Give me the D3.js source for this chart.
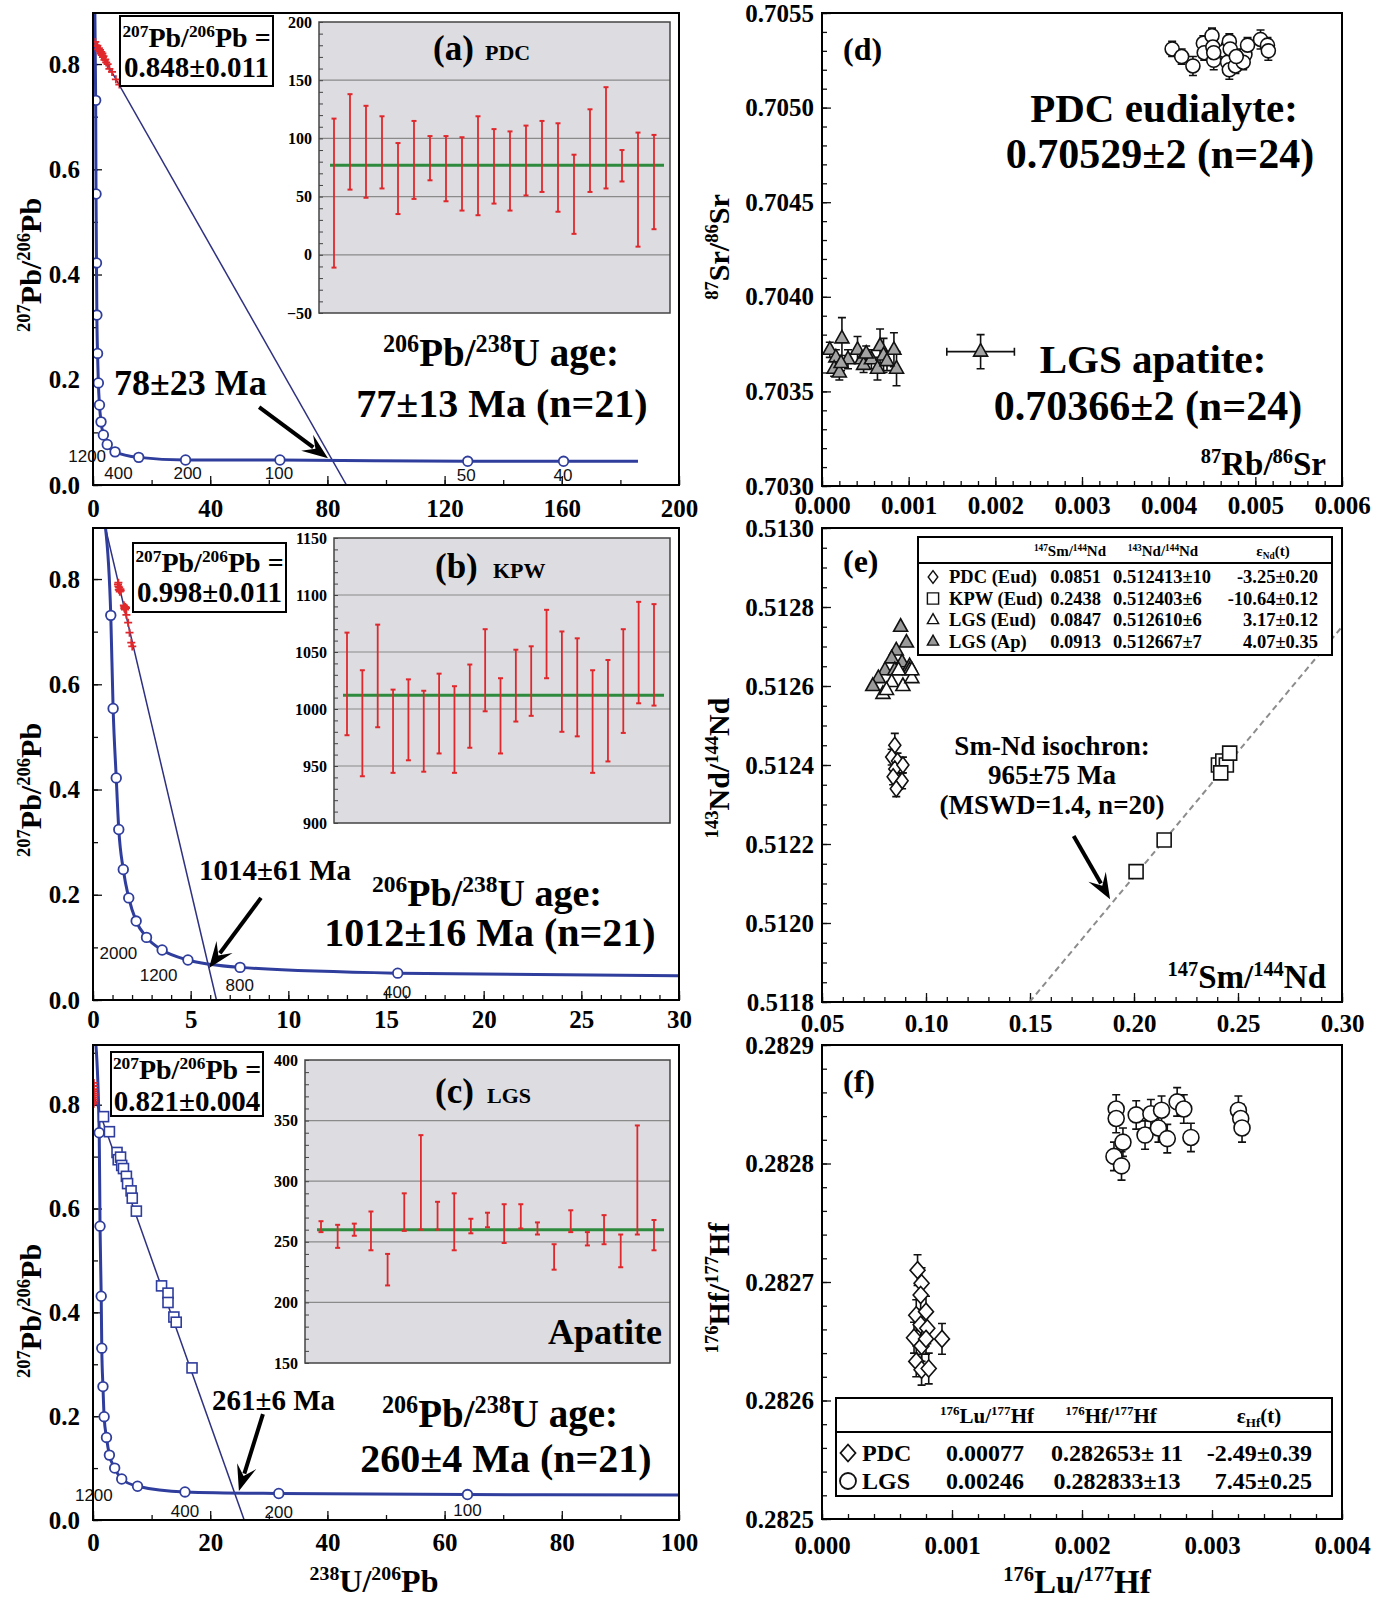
<!DOCTYPE html>
<html>
<head>
<meta charset="utf-8">
<script src="https://cdn.jsdelivr.net/npm/d3@7"></script>
<style>
  body { margin: 0; background: #fff; }
  svg { display: block; }
</style>
</head>
<body>
<svg id="fig" width="1387" height="1603"></svg>
<script>
var SERIF = "'Liberation Serif','Times New Roman',serif",
    SANS = "'Liberation Sans',Arial,sans-serif";
var NAVY = "#2e3080", BLUE = "#2f3d9c", RED = "#e0282c", GREEN = "#2e8b3e";

// ---------- (a) PDC : Tera-Wasserburg ----------
var aConcX = [0.91, 1.03, 1.19, 1.32, 1.55, 1.83, 2.21, 2.74, 3.54, 4.86, 7.53, 15.6, 31.6, 63.8, 127.9, 160.6];
var aConcY = [0.731, 0.553, 0.422, 0.323, 0.250, 0.194, 0.152, 0.120, 0.095, 0.077, 0.063, 0.0525, 0.0475, 0.0475, 0.045, 0.045];
var aConcStart = [0.64, 0.897], aConcEnd = [186, 0.045];
var aAgeText = ["1200", "400", "200", "100", "50", "40"];
var aAgeX = [-2, 8.7, 32.3, 63.5, 127.4, 160.4];
var aAgeY = [0.055, 0.022, 0.022, 0.022, 0.019, 0.019];
var aRedX = [0.8, 1.2, 1.5, 1.8, 2.0, 2.2, 2.4, 2.6, 2.8, 3.0, 3.2, 3.4, 3.6, 3.9, 4.2, 4.5, 5.0, 5.6, 6.5, 7.8, 9.0];
var aRedY = [0.842, 0.834, 0.835, 0.828, 0.830, 0.824, 0.827, 0.820, 0.823, 0.817, 0.820, 0.813, 0.815, 0.808, 0.809, 0.803, 0.800, 0.791, 0.785, 0.771, 0.761];
var aDisc = [0.848, 86.5];           // y-intercept, x-intercept
var aXTicks = [0, 40, 80, 120, 160, 200];
var insetAHi = [117, 138, 128, 119, 96, 115, 102, 102, 101, 119, 108, 106, 111, 115, 113, 86, 125, 144, 90, 105, 103];
var insetALo = [-11, 56, 49, 57, 35, 48, 64, 46, 38, 34, 44, 38, 51, 54, 37, 18, 54, 57, 63, 7, 22];
var insetATicks = [-50, 0, 50, 100, 150, 200];
var insetAMean = 77;

// ---------- (b) KPW ----------
var bConcX = [0.91, 1.03, 1.19, 1.32, 1.55, 1.83, 2.21, 2.74, 3.54, 4.86, 7.53, 15.6];
var bConcY = [0.731, 0.554, 0.422, 0.324, 0.248, 0.194, 0.150, 0.119, 0.095, 0.076, 0.062, 0.051];
var bConcStart = [0.64, 0.897], bConcEnd = [30, 0.046];
var bAgeText = ["2000", "1200", "800", "400"];
var bAgeX = [1.3, 3.36, 7.51, 15.57];
var bAgeY = [0.089, 0.048, 0.029, 0.016];
var bRedX = [1.30, 1.30, 1.32, 1.34, 1.37, 1.40, 1.42, 1.58, 1.60, 1.62, 1.64, 1.66, 1.69, 1.71, 1.80, 1.87, 1.96, 2.01, 1.35, 1.61, 1.28];
var bRedY = [0.793, 0.786, 0.780, 0.784, 0.776, 0.781, 0.778, 0.750, 0.748, 0.745, 0.742, 0.747, 0.745, 0.732, 0.717, 0.698, 0.679, 0.672, 0.779, 0.744, 0.790];
var bDisc = [0.998, 6.32];
var bXTicks = [0, 5, 10, 15, 20, 25, 30];
var insetBHi = [1067, 1034, 1074, 1017, 1026, 1016, 1031, 1020, 1039, 1070, 1027, 1052, 1055, 1087, 1068, 1062, 1034, 1043, 1070, 1094, 1092];
var insetBLo = [977, 941, 984, 944, 955, 945, 961, 944, 966, 998, 961, 989, 994, 1027, 980, 976, 944, 954, 979, 1005, 1003];
var insetBTicks = [900, 950, 1000, 1050, 1100, 1150];
var insetBMean = 1012;

// ---------- (c) LGS ----------
var cConcX = [1.06, 1.2, 1.4, 1.5, 1.7, 1.9, 2.3, 2.8, 3.7, 4.9, 7.6, 15.7, 31.7, 63.9];
var cConcY = [0.746, 0.566, 0.431, 0.331, 0.257, 0.199, 0.159, 0.125, 0.100, 0.079, 0.065, 0.054, 0.051, 0.049];
var cConcStart = [0.5, 0.915], cConcEnd = [100, 0.048];
var cAgeText = ["1200", "400", "200", "100"];
var cAgeX = [0.15, 15.7, 31.7, 63.9];
var cAgeY = [0.049, 0.018, 0.016, 0.020];
var cRedX = [0.15, 0.18, 0.20, 0.12, 0.22, 0.25, 0.17, 0.20, 0.23, 0.14];
var cRedY = [0.842, 0.836, 0.830, 0.826, 0.822, 0.818, 0.814, 0.810, 0.806, 0.802];
var cSqX = [1.8, 2.8, 4.1, 4.3, 4.7, 4.9, 5.2, 5.7, 5.9, 6.5, 6.7, 7.4, 11.7, 12.8, 12.8, 13.8, 14.2, 16.9];
var cSqY = [0.777, 0.748, 0.708, 0.694, 0.699, 0.683, 0.677, 0.662, 0.648, 0.634, 0.620, 0.595, 0.451, 0.437, 0.419, 0.391, 0.381, 0.293];
var cDisc = [0.821, 25.8];
var cXTicks = [0, 20, 40, 60, 80, 100];
var insetCHi = [267, 264, 265, 275, 240, 290, 338, 283, 290, 269, 274, 281, 281, 266, 248, 276, 258, 272, 256, 346, 268];
var insetCLo = [258, 245, 255, 243, 214, 259, 260, 260, 243, 257, 262, 249, 261, 256, 227, 258, 247, 248, 229, 256, 243];
var insetCTicks = [150, 200, 250, 300, 350, 400];
var insetCMean = 260;

var twYTicks = [0, 0.2, 0.4, 0.6, 0.8];

// ---------- (d) Sr isotopes ----------
var dCirX = [0.00404, 0.00415, 0.00428, 0.00440, 0.00441, 0.00450, 0.00451, 0.00452, 0.00465, 0.00468, 0.00470, 0.00471, 0.00470, 0.00477, 0.00488, 0.00486, 0.00491, 0.00506, 0.00514, 0.00515, 0.00452, 0.00478];
var dCirY = [0.70531, 0.70527, 0.70522, 0.70534, 0.70529, 0.70538, 0.70532, 0.70525, 0.70530, 0.70524, 0.70535, 0.70531, 0.70520, 0.70522, 0.70528, 0.70524, 0.70533, 0.70536, 0.70533, 0.70530, 0.70529, 0.70527];
var dCirErr = [0.00004, 0.00004, 0.00005, 0.00004, 0.00004, 0.00004, 0.00004, 0.00005, 0.00004, 0.00005, 0.00004, 0.00004, 0.00005, 0.00004, 0.00004, 0.00004, 0.00004, 0.00005, 0.00004, 0.00005, 0.00004, 0.00004];
var dCirXErr = [0, 0, 0, 0, 0, 0, 0, 0, 0, 0, 0, 0, 0, 0, 0, 0, 0, 0, 0.00005, 0, 0, 0];
var dTriX = [0.00009, 0.00016, 0.00023, 0.00014, 0.00020, 0.00030, 0.00041, 0.00046, 0.00048, 0.00057, 0.00064, 0.00067, 0.00071, 0.00083, 0.00086, 0.00022, 0.00051, 0.00075, 0.00183];
var dTriY = [0.70372, 0.70368, 0.70378, 0.70362, 0.70360, 0.70367, 0.70372, 0.70367, 0.70364, 0.70367, 0.70362, 0.70374, 0.70369, 0.70372, 0.70362, 0.70365, 0.70370, 0.70366, 0.70371];
var dTriErr = [0.00004, 0.00004, 0.00011, 0.00004, 0.00004, 0.00005, 0.00007, 0.00004, 0.00004, 0.00005, 0.00006, 0.00009, 0.00009, 0.00009, 0.00009, 0.00004, 0.00004, 0.00005, 0.00009];
var dTriXErr = [0, 0, 0, 0, 0, 0, 0, 0, 0, 0, 0, 0, 0, 0, 0, 0, 0, 0, 0.00039];
var dXTicks = [0, 0.001, 0.002, 0.003, 0.004, 0.005, 0.006];
var dYTicks = [0.7030, 0.7035, 0.7040, 0.7045, 0.7050, 0.7055];

// ---------- (e) Nd isotopes ----------
var eDiaX = [0.0850, 0.0835, 0.0863, 0.0850, 0.0889, 0.0868, 0.0842, 0.0885, 0.0857];
var eDiaY = [0.51245, 0.51242, 0.51241, 0.51239, 0.51240, 0.51236, 0.51237, 0.51236, 0.51234];
var eDiaErr = [0.00003, 0.00002, 0.00002, 0.00002, 0.00002, 0.00002, 0.00002, 0.00002, 0.00002];
var eApX = [0.0878, 0.0906, 0.0857, 0.0835, 0.0885, 0.0921, 0.0803, 0.0850, 0.0771, 0.0744, 0.0921];
var eApY = [0.51275, 0.51271, 0.51269, 0.51267, 0.51266, 0.51265, 0.51264, 0.51264, 0.51262, 0.51260, 0.51264];
var eEudX = [0.0793, 0.0835, 0.0889, 0.0932, 0.0868, 0.0932, 0.0810];
var eEudY = [0.51258, 0.51261, 0.51260, 0.51262, 0.51264, 0.51264, 0.51259];
var eSqX = [0.201, 0.2145, 0.2406, 0.2427, 0.2444, 0.2417, 0.2460];
var eSqY = [0.51213, 0.51221, 0.51240, 0.51241, 0.51240, 0.51238, 0.51243];
var eIsoX = [0.1498, 0.30], eIsoY = [0.5118, 0.51275];
var eXTicks = [0.05, 0.10, 0.15, 0.20, 0.25, 0.30];
var eYTicks = [0.5118, 0.5120, 0.5122, 0.5124, 0.5126, 0.5128, 0.5130];
var eLegName = ["PDC (Eud)", "KPW (Eud)", "LGS (Eud)", "LGS (Ap)"];
var eLegSm = ["0.0851", "0.2438", "0.0847", "0.0913"];
var eLegNd = ["0.512413\u00b110", "0.512403\u00b16", "0.512610\u00b16", "0.512667\u00b17"];
var eLegEps = ["-3.25\u00b10.20", "-10.64\u00b10.12", "3.17\u00b10.12", "4.07\u00b10.35"];

// ---------- (f) Hf isotopes ----------
var fCirX = [0.002263, 0.002263, 0.002246, 0.002304, 0.002315, 0.002417, 0.002485, 0.002530, 0.002588, 0.002612, 0.002656, 0.002732, 0.002783, 0.002838, 0.003203, 0.003221, 0.003231];
var fCirY = [0.282846, 0.282838, 0.282806, 0.282798, 0.282818, 0.282841, 0.282824, 0.282842, 0.282830, 0.282845, 0.282821, 0.282852, 0.282846, 0.282822, 0.282845, 0.282838, 0.282830];
var fDiaX = [0.000735, 0.000766, 0.000759, 0.000725, 0.000800, 0.000759, 0.000708, 0.000810, 0.000766, 0.000923, 0.000725, 0.000766, 0.000821, 0.000800];
var fDiaY = [0.282710, 0.282699, 0.282689, 0.282672, 0.282675, 0.282664, 0.282653, 0.282661, 0.282646, 0.282652, 0.282633, 0.282626, 0.282627, 0.282652];
var fXTicks = [0, 0.001, 0.002, 0.003, 0.004];
var fYTicks = [0.2825, 0.2826, 0.2827, 0.2828, 0.2829];
var fLegName = ["PDC", "LGS"];
var fLegLu = ["0.00077", "0.00246"];
var fLegHf = ["0.282653\u00b1 11", "0.282833\u00b113"];
var fLegEps = ["-2.49\u00b10.39", "7.45\u00b10.25"];

var svg = d3.select("#fig");

// text with ^superscript / _subscript parts
function rich(g, x, y, parts, size, anchor) {
  var t = g.append("text").attr("x", x).attr("y", y)
    .attr("font-family", SERIF).attr("font-weight", "bold")
    .attr("font-size", size).attr("text-anchor", anchor || "start");
  var cur = 0;
  parts.forEach(function(p) {
    var sup = p[0] === "^", sub = p[0] === "_";
    var off = sup ? -0.36 * size : sub ? 0.2 * size : 0;
    t.append("tspan").attr("dy", off - cur)
      .attr("font-size", (sup || sub) ? size * 0.62 : size)
      .text((sup || sub) ? p.slice(1) : p);
    cur = off;
  });
  return t;
}
function yTitle(x, y, parts, size) {
  rich(svg, 0, 0, parts, size, "middle").attr("transform", "translate(" + x + "," + y + ") rotate(-90)");
}
function steps(a, b, s) {
  return d3.range(0, Math.round((b - a) / s) + 1).map(function(i) { return +(a + i * s).toFixed(7); });
}

function axes(g, x, y, o) {
  var bottom = y.range()[0], left = x.range()[0];
  var gx = g.append("g").attr("transform", "translate(0," + bottom + ")");
  gx.append("g").call(d3.axisBottom(x).tickValues(o.xMinor).tickSize(-5).tickFormat(""));
  gx.append("g").call(d3.axisBottom(x).tickValues(o.xMajor).tickSize(-9).tickPadding(o.xPad).tickFormat(o.xFmt));
  var gy = g.append("g").attr("transform", "translate(" + left + ",0)");
  gy.append("g").call(d3.axisLeft(y).tickValues(o.yMinor).tickSize(-5).tickFormat(""));
  gy.append("g").call(d3.axisLeft(y).tickValues(o.yMajor).tickSize(-9).tickPadding(o.yPad).tickFormat(o.yFmt));
  g.selectAll(".domain").remove();
  g.selectAll(".tick line").attr("stroke", "#111").attr("stroke-width", 1.3);
  g.selectAll(".tick text").attr("font-family", SERIF).attr("font-weight", "bold")
    .attr("font-size", 25).attr("fill", "#000");
}

function frame(x, y) {
  svg.append("rect").attr("x", x.range()[0]).attr("y", y.range()[1])
    .attr("width", x.range()[1] - x.range()[0]).attr("height", y.range()[0] - y.range()[1])
    .attr("fill", "none").attr("stroke", "#000").attr("stroke-width", 2);
}

function clipped(id, x, y) {
  svg.append("clipPath").attr("id", id).append("rect")
    .attr("x", x.range()[0]).attr("y", y.range()[1])
    .attr("width", x.range()[1] - x.range()[0]).attr("height", y.range()[0] - y.range()[1]);
  return svg.append("g").attr("clip-path", "url(#" + id + ")");
}

function arrow(g, x1, y1, x2, y2) {
  var a = Math.atan2(y2 - y1, x2 - x1), L = 26, W = 10;
  var c = Math.cos(a), s = Math.sin(a);
  g.append("line").attr("x1", x1).attr("y1", y1).attr("x2", x2 - L * 0.7 * c).attr("y2", y2 - L * 0.7 * s)
    .attr("stroke", "#000").attr("stroke-width", 4);
  var bx = x2 - L * c, by = y2 - L * s;
  g.append("path").attr("d", "M" + x2 + "," + y2 +
      "L" + (bx + W * s) + "," + (by - W * c) +
      "L" + (x2 - L * 0.6 * c) + "," + (y2 - L * 0.6 * s) +
      "L" + (bx - W * s) + "," + (by + W * c) + "Z")
    .attr("fill", "#000");
}

function inset(o) {
  var y = d3.scaleLinear().domain([o.ticks[0], o.ticks[o.ticks.length - 1]]).range([o.y1, o.y0]);
  var x = d3.scaleLinear().domain([0, o.hi.length - 1]).range([o.b0, o.b1]);
  var g = svg.append("g");
  g.append("rect").attr("x", o.x0).attr("y", o.y0).attr("width", o.x1 - o.x0).attr("height", o.y1 - o.y0)
    .attr("fill", "#dcdce1");
  g.selectAll(".grid").data(o.ticks.slice(1, -1)).enter().append("line")
    .attr("x1", o.x0).attr("x2", o.x1).attr("y1", y).attr("y2", y)
    .attr("stroke", "#8a8a8a").attr("stroke-width", 1.2);
  var ga = g.append("g").attr("transform", "translate(" + o.x0 + ",0)");
  ga.append("g").call(d3.axisLeft(y).tickValues(steps(o.ticks[0], o.ticks[o.ticks.length - 1], 10)).tickSize(-4).tickFormat(""));
  ga.append("g").call(d3.axisLeft(y).tickValues(o.ticks).tickSize(0).tickPadding(7).tickFormat(d3.format("d")));
  ga.selectAll(".domain").remove();
  ga.selectAll(".tick line").attr("stroke", "#444");
  ga.selectAll(".tick text").attr("font-family", SERIF).attr("font-weight", "bold")
    .attr("font-size", 16).attr("fill", "#000");
  g.append("line").attr("x1", x(0) - 4).attr("x2", x(o.hi.length - 1) + 10)
    .attr("y1", y(o.mean)).attr("y2", y(o.mean)).attr("stroke", GREEN).attr("stroke-width", 3);
  var bars = g.selectAll(".bar").data(o.hi).enter().append("g");
  bars.append("line").attr("x1", function(d, i) { return x(i); }).attr("x2", function(d, i) { return x(i); })
    .attr("y1", function(d) { return y(d); }).attr("y2", function(d, i) { return y(o.lo[i]); })
    .attr("stroke", RED).attr("stroke-width", 1.8);
  [o.hi, o.lo].forEach(function(arr) {
    g.selectAll(null).data(arr).enter().append("line")
      .attr("x1", function(d, i) { return x(i) - 2.5; }).attr("x2", function(d, i) { return x(i) + 2.5; })
      .attr("y1", y).attr("y2", y).attr("stroke", RED).attr("stroke-width", 2);
  });
  g.append("rect").attr("x", o.x0).attr("y", o.y0).attr("width", o.x1 - o.x0).attr("height", o.y1 - o.y0)
    .attr("fill", "none").attr("stroke", "#444").attr("stroke-width", 1.5);
  rich(g, o.tx, o.ty, [o.label], 35, "start");
  rich(g, o.tx + o.gap, o.ty, [o.site], 22, "start");
}

function twPanel(o) {
  var x = d3.scaleLinear().domain([0, o.xTicks[o.xTicks.length - 1]]).range([93, 679]);
  var y = d3.scaleLinear().domain([0, o.yMax]).range([o.bottom, o.top]);
  axes(svg.append("g"), x, y, {
    xMinor: steps(0, o.xTicks[o.xTicks.length - 1], o.xStep), xMajor: o.xTicks, xFmt: d3.format("d"), xPad: o.xPad,
    yMinor: steps(0, 0.9, 0.1).filter(function(v) { return v <= o.yMax; }), yMajor: twYTicks, yFmt: d3.format(".1f"), yPad: 13
  });
  var p = clipped("clip" + o.id, x, y);
  p.append("line").attr("x1", x(0)).attr("y1", y(o.disc[0])).attr("x2", x(o.disc[1])).attr("y2", y(0))
    .attr("stroke", NAVY).attr("stroke-width", 1.5);
  var pts = [o.start].concat(o.cx.map(function(v, i) { return [v, o.cy[i]]; })).concat([o.end]);
  p.append("path").datum(pts)
    .attr("d", d3.line().x(function(d) { return x(d[0]); }).y(function(d) { return y(d[1]); }).curve(d3.curveMonotoneX))
    .attr("fill", "none").attr("stroke", BLUE).attr("stroke-width", 3);
  p.selectAll(".cc").data(o.cx).enter().append("circle")
    .attr("cx", function(d) { return x(d); }).attr("cy", function(d, i) { return y(o.cy[i]); })
    .attr("r", 4.8).attr("fill", "#fff").attr("stroke", BLUE).attr("stroke-width", 1.8);
  if (o.sqx) {
    p.selectAll(".sq").data(o.sqx).enter().append("rect")
      .attr("x", function(d) { return x(d) - 5; }).attr("y", function(d, i) { return y(o.sqy[i]) - 5; })
      .attr("width", 10).attr("height", 10).attr("fill", "#fff").attr("stroke", BLUE).attr("stroke-width", 1.6);
  }
  p.selectAll(".rd").data(o.rx).enter().append("path")
    .attr("transform", function(d, i) { return "translate(" + x(d) + "," + y(o.ry[i]) + ")"; })
    .attr("d", "M-4,0H4M0,-4V4").attr("stroke", RED).attr("stroke-width", 1.8);
  svg.selectAll(null).data(o.ageText).enter().append("text")
    .attr("x", function(d, i) { return x(o.ageX[i]); }).attr("y", function(d, i) { return y(o.ageY[i]) + 6; })
    .attr("text-anchor", "middle").attr("font-family", SANS).attr("font-size", 17).attr("fill", "#111")
    .text(function(d) { return d; });
  frame(x, y);
  arrow(svg, x(o.arrow[0]), y(o.arrow[1]), x(o.arrow[2]), y(o.arrow[3]));
  return { x: x, y: y };
}

function ratioBox(x0, y0, x1, y1, value, b1, b2) {
  svg.append("rect").attr("x", x0).attr("y", y0).attr("width", x1 - x0).attr("height", y1 - y0)
    .attr("fill", "#fff").attr("stroke", "#000").attr("stroke-width", 2);
  rich(svg, (x0 + x1) / 2, b1, ["^207", "Pb/", "^206", "Pb ="], 28, "middle");
  rich(svg, (x0 + x1) / 2, b2, [value], 29, "middle");
}

// ===== panel (a) =====
twPanel({ id: "a", xTicks: aXTicks, xStep: 20, xPad: 14, yMax: 0.897, top: 13, bottom: 485,
  cx: aConcX, cy: aConcY, start: aConcStart, end: aConcEnd, disc: aDisc, rx: aRedX, ry: aRedY,
  ageText: aAgeText, ageX: aAgeX, ageY: aAgeY, arrow: [56.7, 0.148, 80.2, 0.051] });
inset({ x0: 319, x1: 670, y0: 22, y1: 313, b0: 334, b1: 654, ticks: insetATicks, hi: insetAHi, lo: insetALo,
  mean: insetAMean, label: "(a)", site: "PDC", tx: 433, ty: 60, gap: 52 });
ratioBox(120, 16, 273, 86, "0.848\u00b10.011", 47, 77);
rich(svg, 114, 395, ["78\u00b123 Ma"], 36, "start");
rich(svg, 501, 366, ["^206", "Pb/", "^238", "U age:"], 39, "middle");
rich(svg, 502, 417, ["77\u00b113 Ma (n=21)"], 40, "middle");
yTitle(41, 265, ["^207", "Pb/", "^206", "Pb"], 30);

// ===== panel (b) =====
twPanel({ id: "b", xTicks: bXTicks, xStep: 1, xPad: 10, yMax: 0.897, top: 528, bottom: 1000,
  cx: bConcX, cy: bConcY, start: bConcStart, end: bConcEnd, disc: bDisc, rx: bRedX, ry: bRedY,
  ageText: bAgeText, ageX: bAgeX, ageY: bAgeY, arrow: [8.6, 0.194, 5.94, 0.061] });
inset({ x0: 334, x1: 670, y0: 538, y1: 823, b0: 347, b1: 654, ticks: insetBTicks, hi: insetBHi, lo: insetBLo,
  mean: insetBMean, label: "(b)", site: "KPW", tx: 435, ty: 578, gap: 58 });
ratioBox(133, 543, 286, 612, "0.998\u00b10.011", 572, 602);
rich(svg, 199, 880, ["1014\u00b161 Ma"], 29, "start");
rich(svg, 487, 906, ["^206", "Pb/", "^238", "U age:"], 38, "middle");
rich(svg, 490, 946, ["1012\u00b116 Ma (n=21)"], 40, "middle");
yTitle(41, 790, ["^207", "Pb/", "^206", "Pb"], 30);

// ===== panel (c) =====
twPanel({ id: "c", xTicks: cXTicks, xStep: 10, xPad: 13, yMax: 0.915, top: 1045, bottom: 1520,
  cx: cConcX, cy: cConcY, start: cConcStart, end: cConcEnd, disc: cDisc, rx: cRedX, ry: cRedY,
  sqx: cSqX, sqy: cSqY,
  ageText: cAgeText, ageX: cAgeX, ageY: cAgeY, arrow: [29.0, 0.204, 24.9, 0.056] });
inset({ x0: 305, x1: 670, y0: 1060, y1: 1363, b0: 321, b1: 654, ticks: insetCTicks, hi: insetCHi, lo: insetCLo,
  mean: insetCMean, label: "(c)", site: "LGS", tx: 435, ty: 1103, gap: 52 });
rich(svg, 662, 1344, ["Apatite"], 36, "end");
ratioBox(111, 1052, 263, 1116, "0.821\u00b10.004", 1079, 1111);
rich(svg, 212, 1410, ["261\u00b16 Ma"], 29, "start");
rich(svg, 500, 1427, ["^206", "Pb/", "^238", "U age:"], 39, "middle");
rich(svg, 506, 1472, ["260\u00b14 Ma (n=21)"], 40, "middle");
yTitle(41, 1311, ["^207", "Pb/", "^206", "Pb"], 30);
rich(svg, 374, 1592, ["^238", "U/", "^206", "Pb"], 32, "middle");

// ===== generic helpers for right column =====
var SHAPES = {
  tri: "M0,-8L7,4.5L-7,4.5Z",
  dia: "M0,-8L6,0L0,8L-6,0Z",
  diaL: "M0,-8.5L7.5,0L0,8.5L-7.5,0Z",
  sq: "M-7,-7H7V7H-7Z"
};
function errBars(g, x, y, xs, ys, ye, xe, cap) {
  xs.forEach(function(v, i) {
    var cx = x(v), cy = y(ys[i]);
    if (ye && ye[i]) {
      var t = y(ys[i] + ye[i]), b = y(ys[i] - ye[i]);
      g.append("path").attr("d", "M" + cx + "," + t + "V" + b + "M" + (cx - cap) + "," + t + "h" + 2 * cap + "M" + (cx - cap) + "," + b + "h" + 2 * cap)
        .attr("stroke", "#111").attr("stroke-width", 1.6).attr("fill", "none");
    }
    if (xe && xe[i]) {
      var l = x(v - xe[i]), r = x(v + xe[i]);
      g.append("path").attr("d", "M" + l + "," + cy + "H" + r + "M" + l + "," + (cy - cap) + "v" + 2 * cap + "M" + r + "," + (cy - cap) + "v" + 2 * cap)
        .attr("stroke", "#111").attr("stroke-width", 1.6).attr("fill", "none");
    }
  });
}
function marks(g, x, y, xs, ys, shape, fill) {
  g.selectAll(null).data(xs).enter().append("path")
    .attr("transform", function(d, i) { return "translate(" + x(d) + "," + y(ys[i]) + ")"; })
    .attr("d", shape).attr("fill", fill).attr("stroke", "#111").attr("stroke-width", 1.6);
}
function circles(g, x, y, xs, ys, r) {
  g.selectAll(null).data(xs).enter().append("circle")
    .attr("cx", function(d) { return x(d); }).attr("cy", function(d, i) { return y(ys[i]); })
    .attr("r", r).attr("fill", "#fff").attr("stroke", "#111").attr("stroke-width", 1.6);
}
function rightPanel(xTicks, yTicks, top, bottom, xMinStep, yMinStep, xFmt, xPad) {
  var x = d3.scaleLinear().domain([xTicks[0], xTicks[xTicks.length - 1]]).range([822, 1342]);
  var y = d3.scaleLinear().domain([yTicks[0], yTicks[yTicks.length - 1]]).range([bottom, top]);
  axes(svg.append("g"), x, y, {
    xMinor: steps(xTicks[0], xTicks[xTicks.length - 1], xMinStep), xMajor: xTicks, xFmt: d3.format(xFmt), xPad: xPad,
    yMinor: steps(yTicks[0], yTicks[yTicks.length - 1], yMinStep), yMajor: yTicks, yFmt: d3.format(".4f"), yPad: 8
  });
  return { x: x, y: y };
}

// ===== panel (d) =====
var D = rightPanel(dXTicks, dYTicks, 13, 486, 0.0002, 0.0001, ".3f", 10);
var dg = svg.append("g");
errBars(dg, D.x, D.y, dTriX, dTriY, dTriErr, dTriXErr, 4);
marks(dg, D.x, D.y, dTriX, dTriY, SHAPES.tri, "#a3a3a3");
errBars(dg, D.x, D.y, dCirX, dCirY, dCirErr, dCirXErr, 4);
circles(dg, D.x, D.y, dCirX, dCirY, 7);
frame(D.x, D.y);
rich(svg, 843, 60, ["(d)"], 32, "start");
rich(svg, 1164, 122, ["PDC eudialyte:"], 41, "middle");
rich(svg, 1160, 168, ["0.70529\u00b12 (n=24)"], 42, "middle");
rich(svg, 1153, 373, ["LGS apatite:"], 41, "middle");
rich(svg, 1148, 420, ["0.70366\u00b12 (n=24)"], 42, "middle");
rich(svg, 1326, 475, ["^87", "Rb/", "^86", "Sr"], 33, "end");
yTitle(729, 247, ["^87", "Sr/", "^86", "Sr"], 30);

// ===== panel (e) =====
var E = rightPanel(eXTicks, eYTicks, 528, 1002, 0.01, 0.00005, ".2f", 12);
var eg = clipped("clipE", E.x, E.y);
eg.append("line").attr("x1", E.x(eIsoX[0])).attr("y1", E.y(eIsoY[0])).attr("x2", E.x(eIsoX[1])).attr("y2", E.y(eIsoY[1]))
  .attr("stroke", "#8c8c8c").attr("stroke-width", 2).attr("stroke-dasharray", "6,4");
errBars(eg, E.x, E.y, eDiaX, eDiaY, eDiaErr, null, 4);
marks(eg, E.x, E.y, eApX, eApY, SHAPES.tri, "#9a9a9a");
marks(eg, E.x, E.y, eEudX, eEudY, SHAPES.tri, "#fff");
marks(eg, E.x, E.y, eDiaX, eDiaY, SHAPES.dia, "#fff");
marks(eg, E.x, E.y, eSqX, eSqY, SHAPES.sq, "#fff");
frame(E.x, E.y);
rich(svg, 843, 572, ["(e)"], 32, "start");
arrow(svg, E.x(0.171), E.y(0.51222), E.x(0.1885), E.y(0.51206));
rich(svg, 1052, 755, ["Sm-Nd isochron:"], 27, "middle");
rich(svg, 1052, 784, ["965\u00b175 Ma"], 27, "middle");
rich(svg, 1052, 814, ["(MSWD=1.4, n=20)"], 27, "middle");
rich(svg, 1326, 988, ["^147", "Sm/", "^144", "Nd"], 33, "end");
yTitle(729, 768, ["^143", "Nd/", "^144", "Nd"], 30);
// legend (e)
svg.append("rect").attr("x", 918).attr("y", 537).attr("width", 414).attr("height", 118)
  .attr("fill", "#fff").attr("stroke", "#000").attr("stroke-width", 2);
svg.append("line").attr("x1", 918).attr("x2", 1332).attr("y1", 563).attr("y2", 563).attr("stroke", "#000").attr("stroke-width", 2);
rich(svg, 1106, 556, ["^147", "Sm/", "^144", "Nd"], 15, "end");
rich(svg, 1163, 556, ["^143", "Nd/", "^144", "Nd"], 15, "middle");
rich(svg, 1273, 556, ["\u03b5", "_Nd", "(t)"], 15, "middle");
var eLegShape = [SHAPES.dia, SHAPES.sq, SHAPES.tri, SHAPES.tri];
var eLegFill = ["#fff", "#fff", "#fff", "#9a9a9a"];
eLegName.forEach(function(n, i) {
  var by = 583 + i * 21.5;
  svg.append("path").attr("transform", "translate(933," + (by - 6) + ") scale(0.8)")
    .attr("d", eLegShape[i]).attr("fill", eLegFill[i]).attr("stroke", "#111").attr("stroke-width", 1.8);
  rich(svg, 949, by, [n], 18.5, "start");
  rich(svg, 1101, by, [eLegSm[i]], 18.5, "end");
  rich(svg, 1113, by, [eLegNd[i]], 18.5, "start");
  rich(svg, 1318, by, [eLegEps[i]], 18.5, "end");
});

// ===== panel (f) =====
var F = rightPanel(fXTicks, fYTicks, 1045, 1519, 0.0002, 0.00002, ".3f", 17);
var fg = svg.append("g");
var fCirErr = fCirX.map(function() { return 0.000012; });
var fDiaErr = fDiaX.map(function() { return 0.000013; });
errBars(fg, F.x, F.y, fDiaX, fDiaY, fDiaErr, null, 4);
marks(fg, F.x, F.y, fDiaX, fDiaY, SHAPES.diaL, "#fff");
errBars(fg, F.x, F.y, fCirX, fCirY, fCirErr, null, 4);
circles(fg, F.x, F.y, fCirX, fCirY, 8);
frame(F.x, F.y);
rich(svg, 843, 1092, ["(f)"], 32, "start");
rich(svg, 1077, 1593, ["^176", "Lu/", "^177", "Hf"], 33, "middle");
yTitle(729, 1288, ["^176", "Hf/", "^177", "Hf"], 30);
// legend (f)
svg.append("rect").attr("x", 836).attr("y", 1398).attr("width", 496).attr("height", 98)
  .attr("fill", "#fff").attr("stroke", "#000").attr("stroke-width", 2);
svg.append("line").attr("x1", 836).attr("x2", 1332).attr("y1", 1432).attr("y2", 1432).attr("stroke", "#000").attr("stroke-width", 2);
rich(svg, 987, 1423, ["^176", "Lu/", "^177", "Hf"], 21, "middle");
rich(svg, 1111, 1423, ["^176", "Hf/", "^177", "Hf"], 21, "middle");
rich(svg, 1259, 1423, ["\u03b5", "_Hf", "(t)"], 21, "middle");
fLegName.forEach(function(n, i) {
  var by = 1461 + i * 28;
  if (i === 0) {
    svg.append("path").attr("transform", "translate(848," + (by - 8) + ")").attr("d", SHAPES.diaL)
      .attr("fill", "#fff").attr("stroke", "#111").attr("stroke-width", 1.8);
  } else {
    svg.append("circle").attr("cx", 848).attr("cy", by - 8).attr("r", 8)
      .attr("fill", "#fff").attr("stroke", "#111").attr("stroke-width", 1.8);
  }
  rich(svg, 862, by, [n], 24, "start");
  rich(svg, 985, by, [fLegLu[i]], 24, "middle");
  rich(svg, 1117, by, [fLegHf[i]], 24, "middle");
  rich(svg, 1312, by, [fLegEps[i]], 24, "end");
});
</script>
</body>
</html>
